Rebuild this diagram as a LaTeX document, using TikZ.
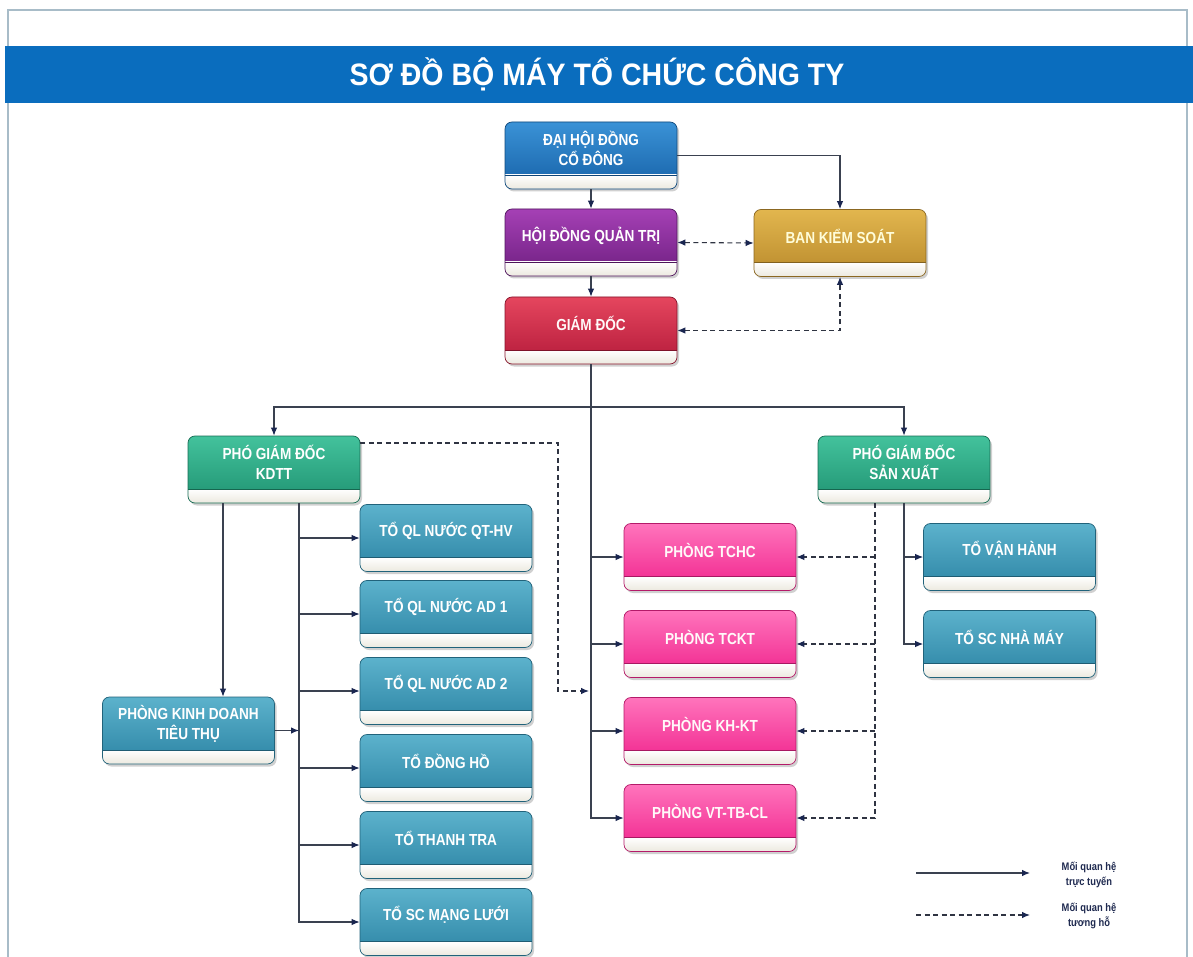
\documentclass[tikz,border=0pt]{standalone}
\usepackage{fontspec}
\setmainfont{Liberation Sans}
\newfontfamily\bfont[FakeStretch=0.85]{Liberation Sans}
\newfontfamily\tfont[FakeStretch=0.92]{Liberation Sans}
\usetikzlibrary{arrows.meta,shadows,calc}
\definecolor{lnc}{HTML}{3A4150}
\definecolor{arrc}{HTML}{1A2650}
\definecolor{dlc}{HTML}{2F3442}
\definecolor{framec}{HTML}{A8BCC8}
\definecolor{titlec}{HTML}{0A6DBE}
\definecolor{stripc}{HTML}{ECE9DF}
\definecolor{blueA}{HTML}{3A92D6}\definecolor{blueB}{HTML}{1762A8}
\definecolor{purA}{HTML}{A540B5}\definecolor{purB}{HTML}{6E1F80}
\definecolor{goldA}{HTML}{E2B64E}\definecolor{goldB}{HTML}{B98A2C}
\definecolor{redA}{HTML}{E5465E}\definecolor{redB}{HTML}{B41A3A}
\definecolor{grnA}{HTML}{43C29C}\definecolor{grnB}{HTML}{1F9271}
\definecolor{tealA}{HTML}{5CB2CC}\definecolor{tealB}{HTML}{2C84A4}
\definecolor{pinkA}{HTML}{FF74BC}\definecolor{pinkB}{HTML}{F0238C}
\definecolor{legc}{HTML}{1F2A50}
\tikzset{
  orgbox/.style 2 args={
    rounded corners=7pt, draw=#2!75!black, line width=0.7pt,
    minimum width=172pt, minimum height=67pt, inner sep=0pt,
    fill=stripc,
    drop shadow={shadow xshift=2pt,shadow yshift=-2.5pt,opacity=0.3,fill=black!60},
    path picture={
      \shade[sharp corners,top color=#1,bottom color=#2] (path picture bounding box.north west) rectangle ([yshift=14pt]path picture bounding box.south east);
      \shade[sharp corners,top color=white,bottom color=stripc] ([yshift=14pt]path picture bounding box.south west) rectangle (path picture bounding box.south east);
      \draw[sharp corners,#2!70!black,line width=0.8pt] ([yshift=14pt]path picture bounding box.south west) -- ([yshift=14pt]path picture bounding box.south east);
    }},
  bluebox/.style={orgbox={blueA}{blueB}},
  purbox/.style={orgbox={purA}{purB}},
  goldbox/.style={orgbox={goldA}{goldB}},
  redbox/.style={orgbox={redA}{redB}},
  grnbox/.style={orgbox={grnA}{grnB}},
  tealbox/.style={orgbox={tealA}{tealB}},
  pinkbox/.style={orgbox={pinkA}{pinkB}},
  btext/.style={font=\bfont\bfseries\fontsize{16}{20}\selectfont, align=center, inner sep=0pt},
  conn/.style={draw=lnc, line width=1.1pt},
  arr/.style={conn, -{Latex[length=8pt,width=6.5pt,color=arrc]}},
  dconn/.style={draw=dlc, line width=1.1pt, dash pattern=on 5pt off 3.5pt},
  darr/.style={dconn, -{Latex[length=8pt,width=6.5pt,color=arrc]}},
  ddarr/.style={dconn, {Latex[length=8pt,width=6.5pt,color=arrc]}-{Latex[length=8pt,width=6.5pt,color=arrc]}},
  legtext/.style={font=\bfont\bfseries\fontsize{11}{15.5}\selectfont, align=center, text=legc, inner sep=0pt},
}
\newcommand\obox[5]{%
  \node[#3] (#1) at (#2) {};
  \node[btext,text=#4] (#1-t) at ([yshift=7pt]#1.center) {#5};}
\begin{document}
\begin{tikzpicture}[x=1pt,y=-1pt]
\useasboundingbox (0,0) rectangle (1193,957);
\fill[white] (0,0) rectangle (1193,957);
% frame
\draw[framec,line width=1.5pt] (8,957) -- (8,10) -- (1187,10) -- (1187,957);
% title
\node[fill=titlec, minimum width=1188pt, minimum height=57pt, inner sep=0pt] (title) at (599,74.5) {};
\node[font=\tfont\bfseries\fontsize{31}{34}\selectfont, text=white, inner sep=0pt] (title-t) at (597,74) {SƠ ĐỒ BỘ MÁY TỔ CHỨC CÔNG TY};

% boxes
\obox{dh}{591,155.5}{bluebox}{white}{ĐẠI HỘI ĐỒNG\\CỔ ĐÔNG}
\obox{hd}{591,242.5}{purbox}{white}{HỘI ĐỒNG QUẢN TRỊ}
\obox{bks}{840,243}{goldbox}{white!85!yellow}{BAN KIỂM SOÁT}
\obox{gd}{591,330.5}{redbox}{white!90!pink}{GIÁM ĐỐC}
\obox{pgk}{274,469.5}{grnbox}{white}{PHÓ GIÁM ĐỐC\\KDTT}
\obox{pgs}{904,469.5}{grnbox}{white}{PHÓ GIÁM ĐỐC\\SẢN XUẤT}
\obox{t1}{446,538}{tealbox}{white}{TỔ QL NƯỚC QT-HV}
\obox{t2}{446,614}{tealbox}{white}{TỔ QL NƯỚC AD 1}
\obox{t3}{446,691}{tealbox}{white}{TỔ QL NƯỚC AD 2}
\obox{t4}{446,768}{tealbox}{white}{TỔ ĐỒNG HỒ}
\obox{t5}{446,845}{tealbox}{white}{TỔ THANH TRA}
\obox{t6}{446,922}{tealbox}{white}{TỔ SC MẠNG LƯỚI}
\obox{pk}{188.5,730.5}{tealbox}{white}{PHÒNG KINH DOANH\\TIÊU THỤ}
\obox{p1}{710,557}{pinkbox}{white!90!pink}{PHÒNG TCHC}
\obox{p2}{710,644}{pinkbox}{white!90!pink}{PHÒNG TCKT}
\obox{p3}{710,731}{pinkbox}{white!90!pink}{PHÒNG KH-KT}
\obox{p4}{710,818}{pinkbox}{white!90!pink}{PHÒNG VT-TB-CL}
\obox{s1}{1009.5,557}{tealbox}{white}{TỔ VẬN HÀNH}
\obox{s2}{1009.5,644}{tealbox}{white}{TỔ SC NHÀ MÁY}

% top connectors
\draw[arr] (dh.south) -- (hd.north);
\draw[arr] (dh.east) -| (bks.north);
\draw[ddarr] (hd.east) -- (bks.west);
\draw[arr] (hd.south) -- (gd.north);
\draw[ddarr] (gd.east) -| (bks.south);

% trunk
\coordinate (j1) at (591,407);
\draw[conn] (gd.south) -- (j1);
\draw[arr] (j1) -| (pgk.north);
\draw[arr] (j1) -| (pgs.north);
\draw[arr] (j1) |- (p4.west);
\draw[arr] (j1 |- p1.west) -- (p1.west);
\draw[arr] (j1 |- p2.west) -- (p2.west);
\draw[arr] (j1 |- p3.west) -- (p3.west);

% dashed from PGD KDTT to trunk
\coordinate (dk) at (558,443);
\coordinate (dkend) at (589,691);
\draw[darr] (pgk.east |- dk) -- (dk) |- (dkend);

% PGD KDTT children
\coordinate (ka) at ([xshift=-51pt]pgk.south);
\draw[arr] (ka) -- (ka |- pk.north);
\coordinate (bus) at ([xshift=25pt]pgk.south);
\draw[arr] (bus) |- (t6.west);
\draw[arr] (bus |- t1.west) -- (t1.west);
\draw[arr] (bus |- t2.west) -- (t2.west);
\draw[arr] (bus |- t3.west) -- (t3.west);
\draw[arr] (bus |- t4.west) -- (t4.west);
\draw[arr] (bus |- t5.west) -- (t5.west);
\draw[arr] (pk.east) -- (bus |- pk.east);

% PGD SX children
\draw[arr] (pgs.south) |- (s2.west);
\draw[arr] (pgs.south |- s1.west) -- (s1.west);
\coordinate (ds) at ([xshift=-29pt]pgs.south);
\draw[darr] (ds) |- (p4.east);
\draw[darr] (ds |- p1.east) -- (p1.east);
\draw[darr] (ds |- p2.east) -- (p2.east);
\draw[darr] (ds |- p3.east) -- (p3.east);

% legend
\coordinate (l1s) at (916,873);
\coordinate (l1e) at (1030,873);
\draw[arr] (l1s) -- (l1e);
\node[legtext] (lg1) at (1089,875) {Mối quan hệ\\trực tuyến};
\coordinate (l2s) at (916,915);
\coordinate (l2e) at (1030,915);
\draw[darr] (l2s) -- (l2e);
\node[legtext] (lg2) at (1089,916) {Mối quan hệ\\tương hỗ};
\end{tikzpicture}
\end{document}
